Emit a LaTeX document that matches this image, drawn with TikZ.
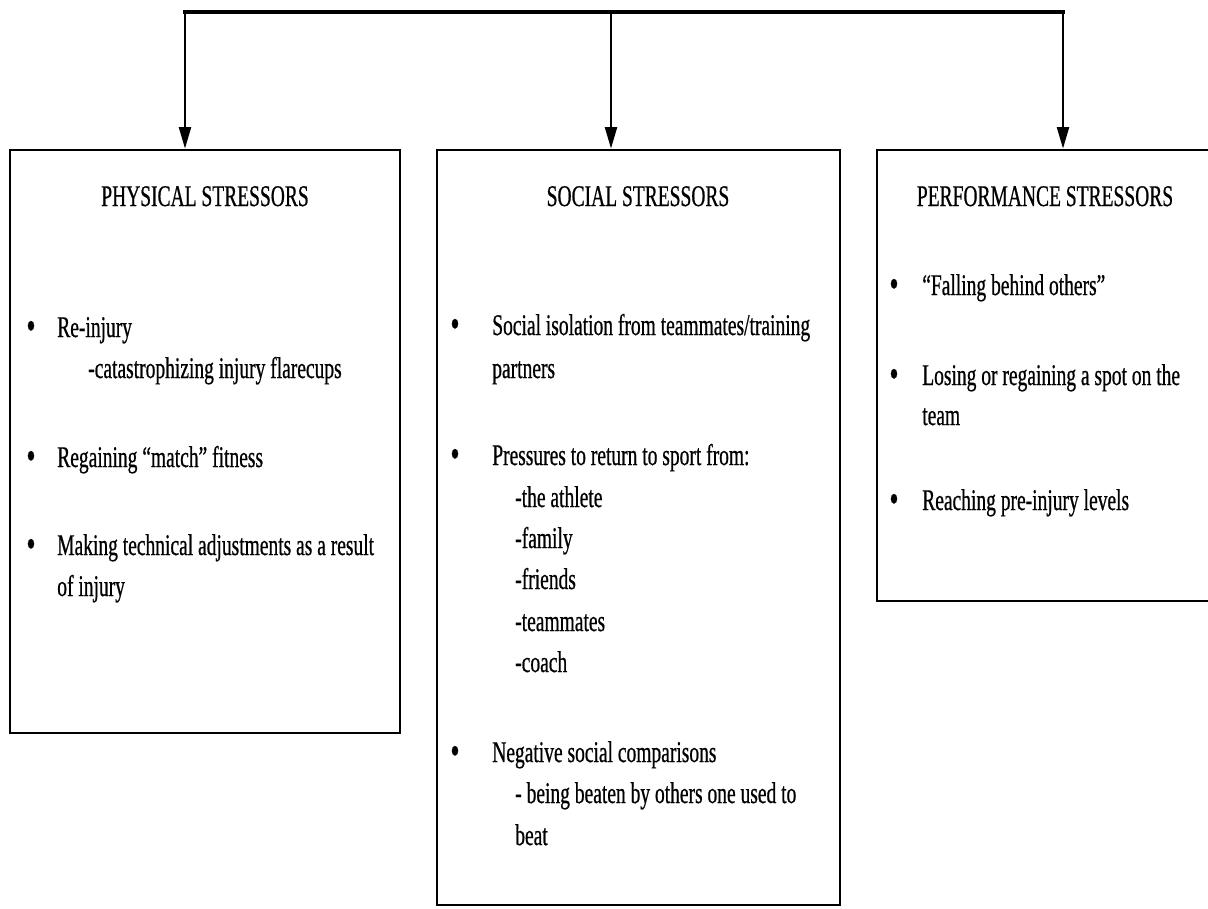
\documentclass[tikz,border=0pt]{standalone}
\usepackage{fontspec}
\setmainfont[FakeStretch=0.65,FakeBold=0.6]{Liberation Serif}
\usetikzlibrary{arrows.meta}
\tikzset{
  box/.style={draw=black, line width=2.2pt, fill=none, inner sep=0pt},
  txt/.style={anchor=base west, inner sep=0pt, font=\fontsize{22.5}{24}\selectfont},
  ttl/.style={anchor=base, inner sep=0pt, font=\fontsize{22.5}{24}\selectfont},
  bul/.style={anchor=base, inner sep=0pt, font=\fontsize{30}{24}\selectfont},
  conn/.style={line width=2.8pt},
  arr/.style={line width=1.5pt, -{Triangle[length=16pt,width=9pt]}}
}
\begin{document}
\begin{tikzpicture}[x=0.75pt,y=-0.75pt]
\useasboundingbox (0,0) rectangle (1208,908);
\clip (0,0) rectangle (1208,908);
% boxes
\node[box, minimum width=292.5pt, minimum height=437.25pt] (phys) at (205,441.5) {};
\node[box, minimum width=302.25pt, minimum height=566.25pt] (soc) at (638.5,527.5) {};
\node[box, minimum width=264.75pt, minimum height=338.25pt] (perf) at (1053.5,375.5) {};
% top connector
\coordinate (t1) at (185,12);
\coordinate (t2) at (611,12);
\coordinate (t3) at (1063,12);
\draw[conn, line cap=rect] (t1) -- (t3);
\draw[arr] (t1) -- (t1 |- phys.north);
\draw[arr] (t2) -- (t2 |- soc.north);
\draw[arr] (t3) -- (t3 |- perf.north);
% titles
\node[ttl] (physT) at (205,206) {PHYSICAL STRESSORS};
\node[ttl] (socT) at (638,206) {SOCIAL STRESSORS};
\node[ttl] (perfT) at (1045,206) {PERFORMANCE STRESSORS};
% physical
\node[bul] (pb1) at (31,339) {•};
\node[txt] (p1) at (57,337) {Re-injury};
\node[txt] (p1a) at (88,378) {-catastrophizing injury flarecups};
\node[bul] (pb2) at (31,469) {•};
\node[txt] (p2) at (57,467) {Regaining “match” fitness};
\node[bul] (pb3) at (31,557) {•};
\node[txt] (p3) at (57,555) {Making technical adjustments as a result};
\node[txt] (p3a) at (57,596) {of injury};
% social
\node[bul] (sb1) at (455,337) {•};
\node[txt] (s1) at (492,335) {Social isolation from teammates/training};
\node[txt] (s1a) at (492,378) {partners};
\node[bul] (sb2) at (455,467) {•};
\node[txt] (s2) at (492,465) {Pressures to return to sport from:};
\node[txt] (s2a) at (515,507) {-the athlete};
\node[txt] (s2b) at (515,548) {-family};
\node[txt] (s2c) at (515,589) {-friends};
\node[txt] (s2d) at (515,631) {-teammates};
\node[txt] (s2e) at (515,672) {-coach};
\node[bul] (sb3) at (455,764) {•};
\node[txt] (s3) at (492,762) {Negative social comparisons};
\node[txt] (s3a) at (515,803) {- being beaten by others one used to};
\node[txt] (s3b) at (515,845) {beat};
% performance
\node[bul] (fb1) at (894,297) {•};
\node[txt] (f1) at (922,295) {“Falling behind others”};
\node[bul] (fb2) at (894,387) {•};
\node[txt] (f2) at (922,385) {Losing or regaining a spot on the};
\node[txt] (f2a) at (922,425) {team};
\node[bul] (fb3) at (894,512) {•};
\node[txt] (f3) at (922,510) {Reaching pre-injury levels};
\end{tikzpicture}
\end{document}
